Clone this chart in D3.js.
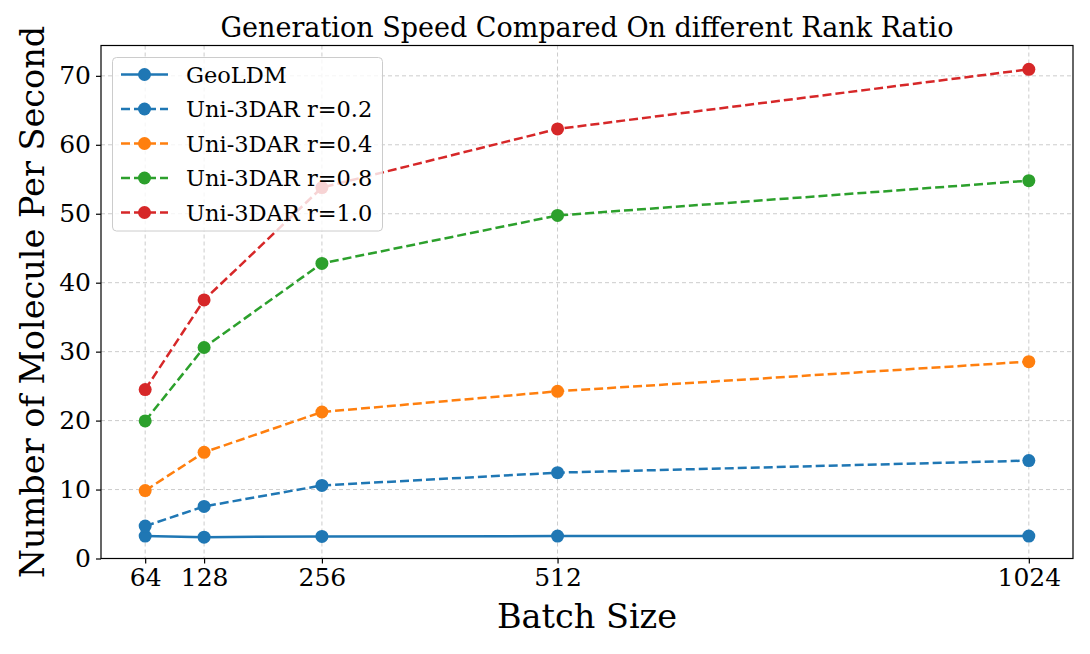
<!DOCTYPE html>
<html lang="en">
<head>
  <meta charset="UTF-8">
  <title>Generation Speed Compared On different Rank Ratio</title>
  <style>
    body { margin: 0; background: #fff; }
    svg text { font-family: "DejaVu Serif", serif; fill: #000; }
    .grid line { stroke: #cccccc; stroke-dasharray: 4,3; stroke-width: 1; }
  </style>
</head>
<body>
  <svg id="chart" width="1090" height="654"></svg>
  <script src="https://d3js.org/d3.v7.min.js"></script>
  <script>
    // data
    var batchSizes = [64, 128, 256, 512, 1024];
    var seriesNames = ["GeoLDM", "Uni-3DAR r=0.2", "Uni-3DAR r=0.4", "Uni-3DAR r=0.8", "Uni-3DAR r=1.0"];
    var geoLDM = [3.25, 3.1, 3.2, 3.25, 3.25];
    var uniR02 = [4.7, 7.55, 10.6, 12.45, 14.2];
    var uniR04 = [9.85, 15.4, 21.25, 24.25, 28.55];
    var uniR08 = [19.95, 30.6, 42.8, 49.75, 54.8];
    var uniR10 = [24.5, 37.5, 53.8, 62.3, 70.95];
    var yTicks = [0, 10, 20, 30, 40, 50, 60, 70];
    var colors = ["#1f77b4", "#1f77b4", "#ff7f0e", "#2ca02c", "#d62728"];
    var dashed = [false, true, true, true, true];
    var allSeries = [geoLDM, uniR02, uniR04, uniR08, uniR10];

    var svg = d3.select("#chart");
    var pLeft = 101, pRight = 1073, pTop = 45.5, pBottom = 558.5;

    var x = d3.scaleLinear().domain([16, 1072]).range([pLeft, pRight]);
    var y = d3.scaleLinear().domain([0, 74.4]).range([pBottom, pTop]);

    // grid
    var grid = svg.append("g").attr("class", "grid");
    grid.selectAll(".gx").data(batchSizes).enter().append("line")
      .attr("x1", function(d) { return x(d); }).attr("x2", function(d) { return x(d); })
      .attr("y1", pTop).attr("y2", pBottom);
    grid.selectAll(".gy").data(yTicks).enter().append("line")
      .attr("x1", pLeft).attr("x2", pRight)
      .attr("y1", function(d) { return y(d); }).attr("y2", function(d) { return y(d); });

    // series
    var line = d3.line()
      .x(function(d, i) { return x(batchSizes[i]); })
      .y(function(d) { return y(d); });

    allSeries.forEach(function(vals, k) {
      svg.append("path")
        .datum(vals)
        .attr("fill", "none")
        .attr("stroke", colors[k])
        .attr("stroke-width", 2.5)
        .attr("stroke-dasharray", dashed[k] ? "9,4" : null)
        .attr("d", line);
      svg.selectAll(".pt" + k).data(vals).enter().append("circle")
        .attr("cx", function(d, i) { return x(batchSizes[i]); })
        .attr("cy", function(d) { return y(d); })
        .attr("r", 6.5)
        .attr("fill", colors[k]);
    });

    // axes
    var xAxis = svg.append("g")
      .attr("transform", "translate(0," + pBottom + ")")
      .call(d3.axisBottom(x).tickValues(batchSizes).tickFormat(d3.format("d")).tickSize(5).tickPadding(5));
    var yAxis = svg.append("g")
      .attr("transform", "translate(" + pLeft + ",0)")
      .call(d3.axisLeft(y).tickValues(yTicks).tickFormat(d3.format("d")).tickSize(5).tickPadding(5));
    [xAxis, yAxis].forEach(function(a) {
      a.select(".domain").remove();
      a.selectAll("line").attr("stroke", "#000").attr("stroke-width", 1.2);
      a.selectAll("text").style("font-size", "25px").attr("font-family", null);
    });

    // frame
    svg.append("rect")
      .attr("x", pLeft).attr("y", pTop)
      .attr("width", pRight - pLeft).attr("height", pBottom - pTop)
      .attr("fill", "none").attr("stroke", "#000").attr("stroke-width", 1.2);

    // titles
    svg.append("text")
      .attr("x", (pLeft + pRight) / 2).attr("y", 37)
      .attr("text-anchor", "middle")
      .style("font-size", "27px")
      .text("Generation Speed Compared On different Rank Ratio");
    svg.append("text")
      .attr("x", (pLeft + pRight) / 2).attr("y", 628)
      .attr("text-anchor", "middle")
      .style("font-size", "33.5px")
      .text("Batch Size");
    svg.append("text")
      .attr("transform", "translate(44," + ((pTop + pBottom) / 2) + ") rotate(-90)")
      .attr("text-anchor", "middle")
      .style("font-size", "33.5px")
      .text("Number of Molecule Per Second");

    // legend
    var legend = svg.append("g");
    legend.append("rect")
      .attr("x", 112.5).attr("y", 57.5)
      .attr("width", 270).attr("height", 173.5)
      .attr("rx", 4)
      .attr("fill", "#fff").attr("fill-opacity", 0.8)
      .attr("stroke", "#cccccc").attr("stroke-width", 1);
    seriesNames.forEach(function(name, k) {
      var ly = 74.5 + k * 34.5;
      legend.append("line")
        .attr("x1", 121).attr("x2", 168).attr("y1", ly).attr("y2", ly)
        .attr("stroke", colors[k]).attr("stroke-width", 2.5)
        .attr("stroke-dasharray", dashed[k] ? "9,4" : null);
      legend.append("circle")
        .attr("cx", 144.5).attr("cy", ly).attr("r", 6.5).attr("fill", colors[k]);
      legend.append("text")
        .attr("x", 186).attr("y", ly + 8)
        .style("font-size", "22.5px")
        .text(name);
    });
  </script>
</body>
</html>
